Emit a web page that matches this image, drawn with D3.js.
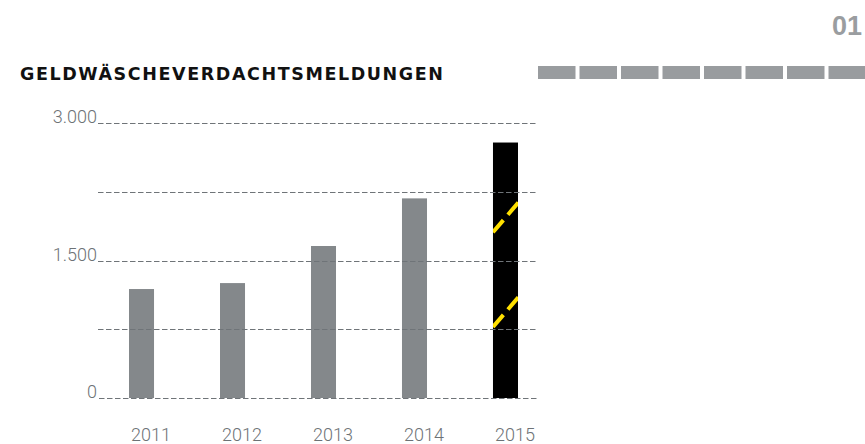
<!DOCTYPE html>
<html>
<head>
<meta charset="utf-8">
<script src="https://cdn.jsdelivr.net/npm/d3@7"></script>
<style>
  body { margin: 0; background: #fff; }
  svg { display: block; }
</style>
</head>
<body>
<script>
// data
var years = ['2011', '2012', '2013', '2014', '2015'];
var reports = [1190, 1255, 1660, 2180, 2790];
var gridTicks = [0, 750, 1500, 2250, 3000];
var labelTicks = [0, 1500, 3000];
// yellow break stripes on the 2015 bar: value at the bar's left edge
var stripeStarts = [775, 1810];
var stripeRise = 320;
var highlightYear = '2015';
var headerBoxes = [0, 1, 2, 3, 4, 5, 6, 7];

(function(){
	const W = 865, H = 444;
	var de = d3.formatLocale({ decimal: ',', thousands: '.', grouping: [3], currency: ['', ' €'] });
	var fmt = de.format(',d');

	var svg = d3.select('body').append('svg')
		.attr('width', W)
		.attr('height', H);

	// page number
	svg.append('text')
		.attr('x', 862).attr('y', 35)
		.attr('text-anchor', 'end')
		.attr('font-family', 'Liberation Sans, Arial, sans-serif')
		.attr('font-weight', 'bold')
		.attr('font-size', 27)
		.attr('fill', '#9a9da0')
		.text('01');

	// title
	svg.append('text')
		.attr('x', 20).attr('y', 80)
		.attr('font-family', 'DejaVu Sans, Liberation Sans, sans-serif')
		.attr('font-weight', 'bold')
		.attr('font-size', 17.5)
		.attr('fill', '#111')
		.attr('textLength', 423)
		.attr('lengthAdjust', 'spacing')
		.text('GELDWÄSCHEVERDACHTSMELDUNGEN');

	// grey header boxes
	var boxX = d3.scaleLinear().domain([0, 1]).range([538, 579.5]);
	svg.append('g').selectAll('rect')
		.data(headerBoxes)
		.enter().append('rect')
		.attr('x', function(d){ return boxX(d); })
		.attr('y', 66)
		.attr('width', 37.5)
		.attr('height', 13)
		.attr('fill', '#999c9f');

	// scales
	var x = d3.scaleBand().domain(years).range([129, 518]).paddingInner(0.725).paddingOuter(0);
	var y = d3.scaleLinear().domain([0, 3000]).range([398, 123.3]);

	var chart = svg.append('g');

	// bars
	chart.selectAll('rect.bar')
		.data(years)
		.enter().append('rect')
		.attr('class', 'bar')
		.attr('x', function(d){ return x(d); })
		.attr('y', function(d, i){ return y(reports[i]); })
		.attr('width', x.bandwidth())
		.attr('height', function(d, i){ return y(0) - y(reports[i]); })
		.attr('fill', function(d){ return d == highlightYear ? '#000' : '#84888b'; });

	// yellow dashed stripes, clipped to the highlighted bar
	var hi = years.indexOf(highlightYear);
	svg.append('defs').append('clipPath').attr('id', 'hiclip')
		.append('rect')
		.attr('x', x(highlightYear))
		.attr('y', y(reports[hi]))
		.attr('width', x.bandwidth())
		.attr('height', y(0) - y(reports[hi]));
	chart.append('g').attr('clip-path', 'url(#hiclip)')
		.selectAll('line')
		.data(stripeStarts)
		.enter().append('line')
		.attr('x1', x(highlightYear))
		.attr('y1', function(d){ return y(d); })
		.attr('x2', x(highlightYear) + x.bandwidth() * 1.5)
		.attr('y2', function(d){ return y(d + stripeRise * 1.5); })
		.attr('stroke', '#ffe000')
		.attr('stroke-width', 4)
		.attr('stroke-dasharray', '16,7');

	// dashed grid lines on top of bars
	chart.append('g').selectAll('line')
		.data(gridTicks)
		.enter().append('line')
		.attr('x1', function(d){ return d == 0 ? 99 : 98; })
		.attr('x2', 537)
		.attr('y1', function(d){ return Math.round(y(d)) + 0.5; })
		.attr('y2', function(d){ return Math.round(y(d)) + 0.5; })
		.attr('stroke', '#6f7478')
		.attr('stroke-width', 1)
		.attr('stroke-dasharray', '5.5,2.5');

	// y labels
	chart.append('g').selectAll('text')
		.data(labelTicks)
		.enter().append('text')
		.attr('x', 97)
		.attr('y', function(d){ return y(d); })
		.attr('text-anchor', 'end')
		.attr('font-family', 'Roboto, Liberation Sans, sans-serif')
		.attr('font-weight', 300)
		.attr('font-size', 18)
		.attr('fill', '#6d7276')
		.text(function(d){ return fmt(d); });

	// x labels, left aligned with the bars
	chart.append('g').selectAll('text')
		.data(years)
		.enter().append('text')
		.attr('x', function(d){ return x(d) + 2; })
		.attr('y', 441)
		.attr('font-family', 'Roboto, Liberation Sans, sans-serif')
		.attr('font-weight', 300)
		.attr('font-size', 18)
		.attr('fill', '#6d7276')
		.text(function(d){ return d; });
})();
</script>
</body>
</html>
